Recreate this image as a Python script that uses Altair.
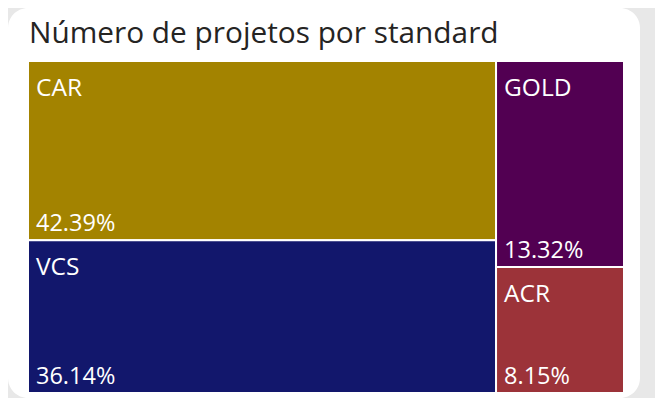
import altair as alt
import pandas as pd

# ---- data ----
standards = ["CAR", "VCS", "GOLD", "ACR"]
shares = [42.39, 36.14, 13.32, 8.15]          # percent of projects
column_group = [0, 0, 1, 1]                    # treemap column each tile sits in
colors = ["#a38300", "#12176c", "#520052", "#9c3339"]
title_text = "Número de projetos por standard"

# ---- treemap layout (normalised 0..1) computed from the values ----
df = pd.DataFrame({"standard": standards, "share": shares, "col": column_group})
total = df["share"].sum()
col_tot = df.groupby("col")["share"].sum()
col_x0 = col_tot.cumsum().shift(fill_value=0) / total
df["x0"] = df["col"].map(col_x0)
df["x1"] = df["x0"] + df["col"].map(col_tot) / total
df["y0"] = df.groupby("col")["share"].cumsum().sub(df["share"]) / df["col"].map(col_tot)
df["y1"] = df["y0"] + df["share"] / df["col"].map(col_tot)
df["pct"] = df["share"].map(lambda v: f"{v:.2f}%")

font = "Open Sans"

xs = alt.Scale(domain=[0, 1], range=[20, 616], nice=False, zero=False)
ys = alt.Scale(domain=[0, 1], range=[53, 385], nice=False, zero=False)

base = alt.Chart(df)

tiles = base.mark_rect(stroke="white", strokeWidth=2).encode(
    x=alt.X("x0:Q", scale=xs, axis=None),
    x2="x1:Q",
    y=alt.Y("y0:Q", scale=ys, axis=None),
    y2="y1:Q",
    color=alt.Color("standard:N", scale=alt.Scale(domain=standards, range=colors), legend=None),
)

names = base.mark_text(
    align="left", baseline="alphabetic", dx=8, dy=35, font=font, fontSize=24.5, color="white"
).encode(
    x=alt.X("x0:Q", scale=xs, axis=None),
    y=alt.Y("y0:Q", scale=ys, axis=None),
    text="standard:N",
)

pcts = base.mark_text(
    align="left", baseline="alphabetic", dx=8, dy=-9, font=font, fontSize=23.5, color="white"
).encode(
    x=alt.X("x0:Q", scale=xs, axis=None),
    y=alt.Y("y1:Q", scale=ys, axis=None),
    text="pct:N",
)

title = alt.Chart(pd.DataFrame({"t": [title_text]})).mark_text(
    align="left", baseline="alphabetic", font=font, fontSize=29.8, color="#252423"
).encode(
    x=alt.value(21),
    y=alt.value(35),
    text="t:N",
)

chart = (
    alt.layer(tiles, names, pcts, title)
    .properties(
        width=632,
        height=390,
        background="#e8e8e8",
        padding={"left": 0, "top": 0, "right": 15, "bottom": 0},
        autosize=alt.AutoSizeParams(type="none"),
    )
    .configure_view(fill="white", stroke=None, cornerRadius=20)
)

chart.save("out.html", embed_options={"renderer": "svg", "actions": False})
